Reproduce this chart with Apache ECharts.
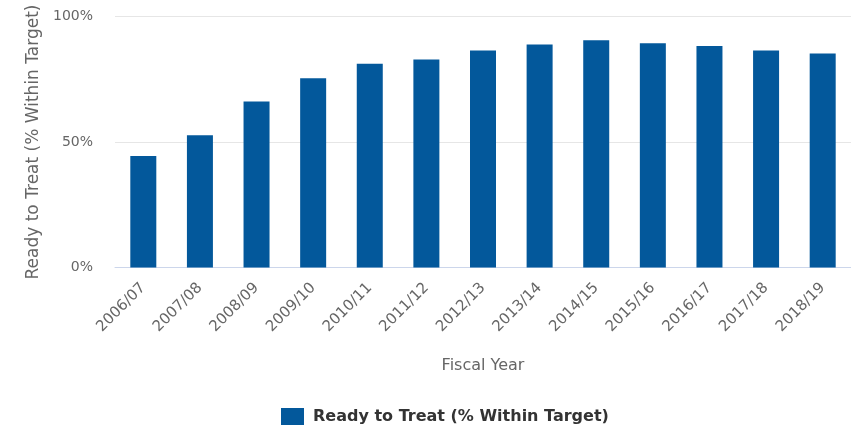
<!DOCTYPE html>
<html>
<head>
  <meta charset="utf-8" />
  <title>Ready to Treat</title>
  <style>
    html, body { margin: 0; padding: 0; background: #fff; }
    #chart { width: 851px; height: 428px; }
  </style>
</head>
<body>
  <div id="chart"></div>
  <script src="https://cdn.jsdelivr.net/npm/echarts@6/dist/echarts.min.js"></script>
  <script>
    var years = ['2006/07', '2007/08', '2008/09', '2009/10', '2010/11', '2011/12', '2012/13',
                 '2013/14', '2014/15', '2015/16', '2016/17', '2017/18', '2018/19'];
    var readyToTreat = [44.4, 52.7, 66.1, 75.4, 81.2, 82.9, 86.5, 88.8, 90.5, 89.3, 88.2, 86.5, 85.3];
    var seriesName = 'Ready to Treat (% Within Target)';

    var _font = '"DejaVu Sans", sans-serif';
    var chart = echarts.init(document.getElementById('chart'));
    chart.setOption({
      animation: false,
      textStyle: { fontFamily: _font },
      grid: { left: 115, top: 16.5, width: 743, bottom: 160.5 },
      legend: {
        data: [seriesName],
        top: 408,
        left: 281,
        padding: 0,
        icon: 'rect',
        itemWidth: 23,
        itemHeight: 17,
        itemGap: 10,
        textStyle: { fontSize: 16, fontWeight: 'bold', color: '#333', fontFamily: _font, padding: [0, 0, 0, 4] }
      },
      xAxis: {
        type: 'category',
        data: years,
        name: 'Fiscal Year',
        nameLocation: 'middle',
        nameGap: 90,
        nameTextStyle: { fontSize: 16, color: '#666' },
        axisLine: { lineStyle: { color: '#ccd6eb' } },
        axisTick: { length: 10, lineStyle: { color: '#ccd6eb' } },
        axisLabel: { rotate: 45, fontSize: 15, color: '#666', margin: 18 }
      },
      yAxis: {
        type: 'value',
        min: 0,
        max: 100,
        interval: 50,
        name: seriesName,
        nameLocation: 'middle',
        nameGap: 73,
        nameTextStyle: { fontSize: 17, color: '#666' },
        axisLine: { show: false },
        axisTick: { show: false },
        axisLabel: { formatter: '{value}%', fontSize: 14, color: '#666', margin: 22 },
        splitLine: { lineStyle: { color: '#e6e6e6' } }
      },
      series: [{
        name: seriesName,
        type: 'bar',
        data: readyToTreat,
        barWidth: 26,
        itemStyle: { color: '#03589b' }
      }]
    });
  </script>
</body>
</html>
